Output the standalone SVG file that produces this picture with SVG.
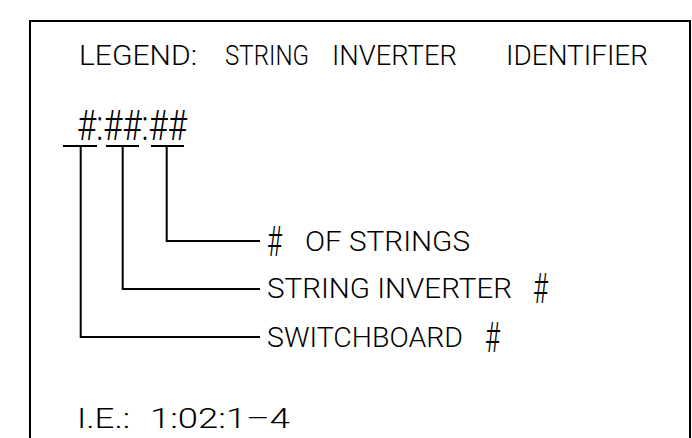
<svg xmlns="http://www.w3.org/2000/svg" width="692" height="438" viewBox="0 0 692 438">
<style>
.t{font-family:Roboto,"Liberation Sans",Arial,sans-serif;font-weight:300;font-size:28px;fill:#000}
.h{font-size:43px}
.ln{fill:none;stroke:#000;stroke-width:2}
</style>
<rect width="692" height="438" fill="#fff"/>
<path class="ln" d="M30,445 V21 H690 V445"/>
<g id="title">
<text class="t" y="65"><tspan x="79" textLength="118" lengthAdjust="spacingAndGlyphs">LEGEND:</tspan> <tspan x="225" textLength="84" lengthAdjust="spacingAndGlyphs">STRING</tspan> <tspan x="332" textLength="125" lengthAdjust="spacingAndGlyphs">INVERTER</tspan> <tspan x="506" textLength="142" lengthAdjust="spacingAndGlyphs">IDENTIFIER</tspan></text>
</g>
<g id="code">
<text class="t h" x="77" y="140" textLength="110" lengthAdjust="spacingAndGlyphs">#:##:##</text>
</g>
<g id="connectors">
<path class="ln" d="M63,146 H97 M106,146 H139 M151,146 H184"/>
<path class="ln" d="M166.7,146 V241 H260"/>
<path class="ln" d="M122.7,146 V289 H260"/>
<path class="ln" d="M80.7,146 V337 H260"/>
</g>
<g id="label-strings">
<text class="t" y="251"><tspan class="h" x="267" dy="5" textLength="15" lengthAdjust="spacingAndGlyphs">#</tspan> <tspan x="305" dy="-5" textLength="165" lengthAdjust="spacingAndGlyphs">OF STRINGS</tspan></text>
</g>
<g id="label-inverter">
<text class="t" y="298"><tspan x="267" textLength="245" lengthAdjust="spacingAndGlyphs">STRING INVERTER</tspan> <tspan class="h" x="533" dy="5" textLength="15" lengthAdjust="spacingAndGlyphs">#</tspan></text>
</g>
<g id="label-switchboard">
<text class="t" y="347"><tspan x="267" textLength="196" lengthAdjust="spacingAndGlyphs">SWITCHBOARD</tspan> <tspan class="h" x="485" dy="5" textLength="15" lengthAdjust="spacingAndGlyphs">#</tspan></text>
</g>
<g id="example">
<text class="t" y="428"><tspan x="77" textLength="53" lengthAdjust="spacingAndGlyphs">I.E.:</tspan> <tspan x="150" textLength="140" lengthAdjust="spacingAndGlyphs">1:02:1–4</tspan></text>
</g>
</svg>
